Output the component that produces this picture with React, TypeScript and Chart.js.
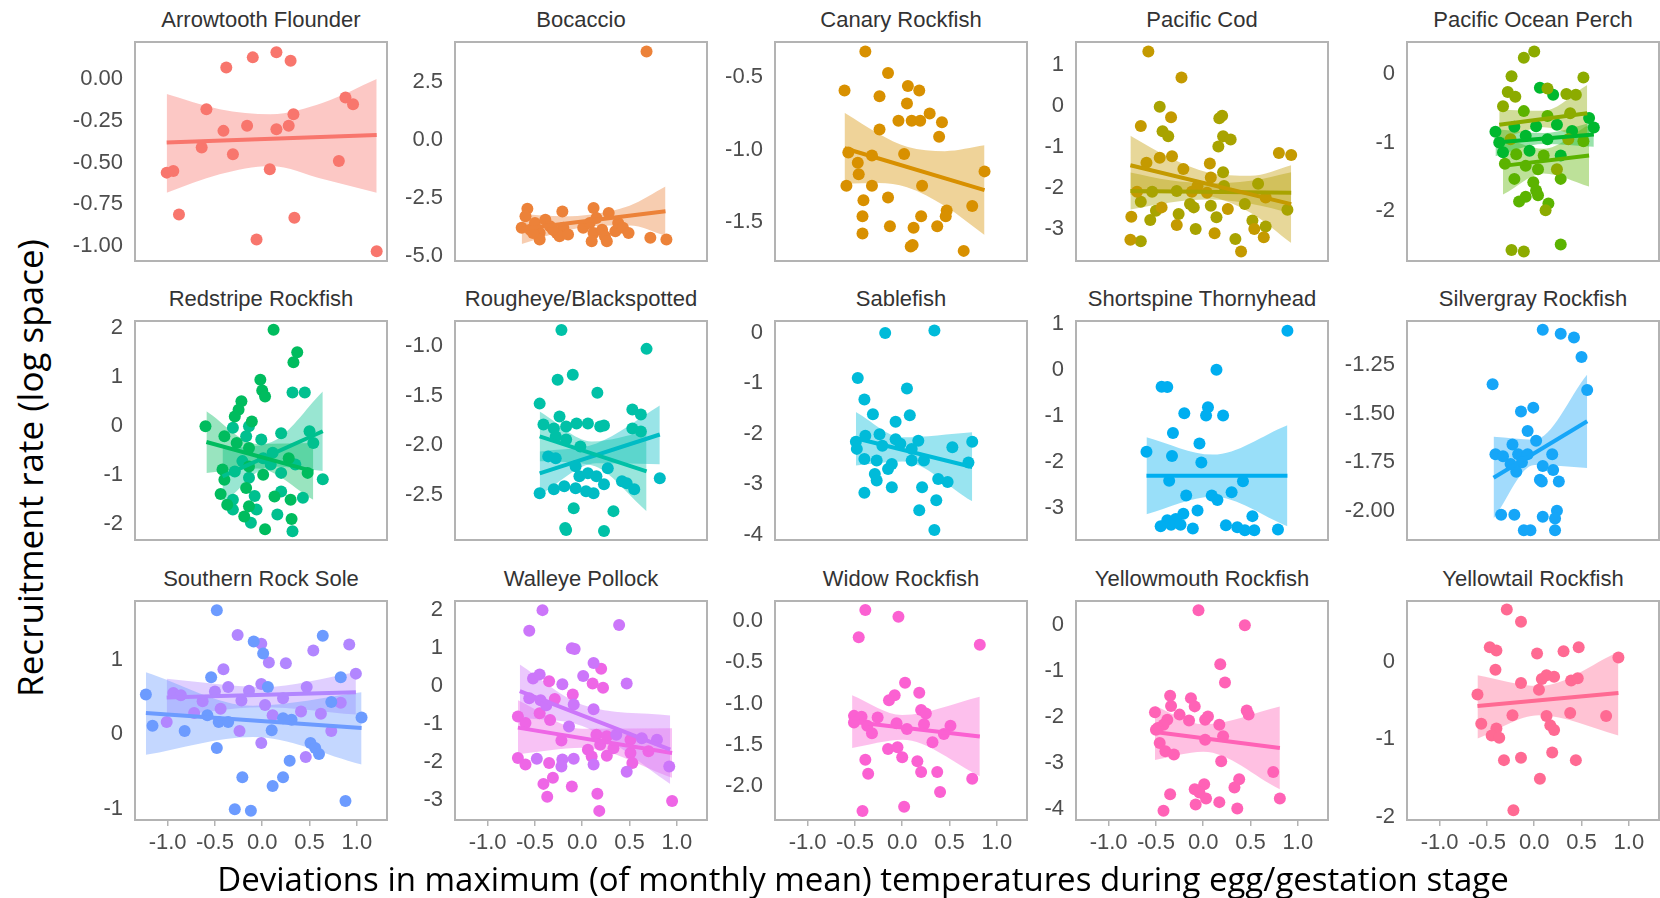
import React, { useEffect, useRef } from "react";
import { Chart, registerables } from "chart.js";

Chart.register(...registerables);

// ---------- shared axis data ----------
const xRange = [-1.345, 1.319];
const xTicks = [-1, -0.5, 0, 0.5, 1];
const xTickLabels = ["-1.0", "-0.5", "0.0", "0.5", "1.0"];
const xAxisTitle = "Deviations in maximum (of monthly mean) temperatures during egg/gestation stage";
const yAxisTitle = "Recruitment rate (log space)";

// ---------- Arrowtooth Flounder ----------
const arrowRange = [-1.089, 0.222];
const arrowTicks = [-1, -0.75, -0.5, -0.25, 0];
const arrowTickLabels = ["-1.00", "-0.75", "-0.50", "-0.25", "0.00"];
const arrowX = [-1.01, -0.94, -0.88, -0.59, -0.64, -0.41, -0.38, -0.31, -0.16, -0.1, -0.06, 0.08, 0.15, 0.15, 0.28, 0.3, 0.33, 0.34, 0.81, 0.88, 0.96, 1.21];
const arrowY = [-0.56, -0.55, -0.81, -0.18, -0.41, -0.31, 0.07, -0.45, -0.28, 0.13, -0.96, -0.54, 0.16, -0.3, -0.28, 0.11, -0.21, -0.83, -0.49, -0.11, -0.15, -1.03];
const arrowFitX = [-1.01, 1.21];
const arrowFitY = [-0.38, -0.335];
const arrowBandX = [-1.01, -0.45, 0.09, 0.65, 1.21];
const arrowBandHi = [-0.09, -0.18, -0.21, -0.14, 0.0];
const arrowBandLo = [-0.68, -0.57, -0.52, -0.6, -0.68];

// ---------- Bocaccio ----------
const bocaRange = [-5.23, 4.22];
const bocaTicks = [-5, -2.5, 0, 2.5];
const bocaTickLabels = ["-5.0", "-2.5", "0.0", "2.5"];
const bocaX = [-0.58, -0.6, -0.64, -0.55, -0.5, -0.45, -0.39, -0.34, -0.45, -0.27, -0.21, -0.2, -0.24, -0.15, 0.01, 0.08, 0.12, 0.15, 0.12, 0.1, 0.21, 0.24, 0.28, 0.26, 0.35, 0.38, 0.43, 0.49, 0.72, 0.89, -0.52, -0.31, 0.68];
const bocaY = [-2.98, -3.3, -3.8, -3.88, -3.59, -4.02, -3.45, -3.73, -4.3, -4.02, -3.09, -3.8, -4.16, -4.09, -3.8, -3.59, -2.94, -3.37, -4.02, -4.38, -3.88, -4.16, -3.16, -4.38, -3.95, -3.59, -3.8, -4.02, -4.23, -4.3, -4.02, -3.88, 3.81];
const bocaFitX = [-0.64, 0.88];
const bocaFitY = [-3.85, -3.08];
const bocaBandX = [-0.64, -0.2, 0.1, 0.5, 0.88];
const bocaBandHi = [-3.2, -3.3, -3.22, -2.85, -2.02];
const bocaBandLo = [-4.5, -3.95, -3.73, -3.7, -4.14];

// ---------- Canary Rockfish ----------
const canaryRange = [-1.77, -0.255];
const canaryTicks = [-1.5, -1, -0.5];
const canaryTickLabels = ["-1.5", "-1.0", "-0.5"];
const canaryX = [-0.39, -0.61, -0.15, -0.24, 0.06, 0.18, 0.05, 0.29, -0.04, 0.1, 0.19, 0.42, 0.39, -0.24, -0.57, -0.32, 0.02, -0.47, -0.46, -0.59, -0.32, 0.21, -0.15, -0.41, -0.42, -0.42, -0.13, 0.12, 0.2, 0.09, 0.11, 0.37, 0.47, 0.46, 0.65, 0.74, 0.87];
const canaryY = [-0.32, -0.59, -0.47, -0.63, -0.56, -0.59, -0.68, -0.75, -0.8, -0.8, -0.8, -0.81, -0.91, -0.86, -1.02, -1.04, -1.03, -1.09, -1.17, -1.25, -1.25, -1.25, -1.33, -1.35, -1.46, -1.58, -1.53, -1.54, -1.46, -1.67, -1.66, -1.53, -1.42, -1.46, -1.7, -1.39, -1.15];
const canaryFitX = [-0.61, 0.87];
const canaryFitY = [-0.99, -1.28];
const canaryBandX = [-0.61, -0.25, 0.05, 0.45, 0.87];
const canaryBandHi = [-0.745, -0.89, -0.98, -1.01, -0.97];
const canaryBandLo = [-1.235, -1.23, -1.26, -1.39, -1.59];

// ---------- Pacific Cod (two stocks) ----------
const codRange = [-3.79, 1.56];
const codTicks = [-3, -2, -1, 0, 1];
const codTickLabels = ["-3", "-2", "-1", "0", "1"];
const codAX = [-0.58, -0.23, -0.66, -0.34, -0.46, -0.33, -0.6, -0.21, 0.07, 0.8, 0.93, 0.08, -0.06, -0.7, -0.12, -0.44, 0.26, 0.66, -0.76, -0.28, 0.12, 0.54, 0.64, 0.4, -0.77, 0.04];
const codAY = [1.33, 0.69, -0.49, -0.28, -1.27, -1.23, -1.39, -1.54, -1.41, -1.15, -1.2, -1.75, -1.96, -2.1, -2.1, -2.48, -2.52, -2.24, -2.71, -2.91, -3.11, -3.01, -3.21, -3.56, -3.27, -2.12];
const codAFitX = [-0.77, 0.93];
const codAFitY = [-1.45, -2.4];
const codABandX = [-0.77, -0.35, 0.05, 0.5, 0.93];
const codABandHi = [-0.73, -1.27, -1.63, -1.71, -1.45];
const codABandLo = [-2.17, -2.11, -2.19, -2.61, -3.35];
const codBX = [-0.46, -0.43, -0.37, 0.17, 0.2, 0.21, 0.29, 0.16, 0.21, 0.58, 0.22, -0.54, -0.28, -0.66, -0.5, -0.14, 0.08, 0.44, 0.89, -0.56, -0.08, -0.26, 0.14, 0.52, 0.66, 0.34, -0.66, -0.1];
const codBY = [-0.02, -0.62, -0.74, -0.3, -0.24, -0.74, -0.82, -0.99, -1.62, -1.9, -1.96, -2.1, -2.08, -2.34, -2.56, -2.4, -2.44, -2.4, -2.54, -2.79, -3.01, -2.64, -2.72, -2.8, -2.95, -3.25, -3.31, -2.48];
const codBFitX = [-0.77, 0.93];
const codBFitY = [-2.08, -2.12];
const codBBandX = [-0.77, -0.35, 0.05, 0.5, 0.93];
const codBBandHi = [-1.63, -1.82, -1.89, -1.83, -1.62];
const codBBandLo = [-2.53, -2.36, -2.29, -2.39, -2.62];

// ---------- Pacific Ocean Perch (three stocks) ----------
const popRange = [-2.73, 0.47];
const popTicks = [-2, -1, 0];
const popTickLabels = ["-2", "-1", "0"];
const popAX = [-0.11, 0.0, -0.24, 0.52, -0.28, -0.2, 0.14, 0.34, 0.44, -0.33, 0.38, -0.25, 0.36, 0.24, 0.12, -0.24, -0.11];
const popAY = [0.24, 0.33, -0.03, -0.05, -0.26, -0.33, -0.21, -0.29, -0.3, -0.47, -0.57, -0.95, -0.95, -1.39, -1.99, -2.57, -2.59];
const popAFitX = [-0.37, 0.56];
const popAFitY = [-0.74, -0.57];
const popABandX = [-0.37, 0.1, 0.56];
const popABandHi = [-0.52, -0.535, -0.16];
const popABandLo = [-0.96, -0.775, -0.98];
const popBX = [0.06, 0.2, -0.41, -0.21, 0.02, 0.24, 0.63, -0.09, 0.14, -0.33, -0.05, 0.28, -0.37, 0.4, 0.58];
const popBY = [-0.2, -0.3, -0.84, -0.77, -0.76, -0.74, -0.78, -0.9, -0.95, -1.14, -1.12, -1.19, -1.0, -0.83, -0.64];
const popBFitX = [-0.41, 0.63];
const popBFitY = [-1.0, -0.88];
const popBBandX = [-0.41, 0.1, 0.63];
const popBBandHi = [-0.8, -0.86, -0.7];
const popBBandLo = [-1.2, -1.02, -1.06];
const popCX = [-0.11, 0.14, 0.52, -0.19, 0.1, -0.31, -0.09, 0.04, -0.21, -0.01, 0.28, 0.02, -0.16, -0.09, 0.15, 0.28, 0.04];
const popCY = [-0.54, -0.61, -0.98, -1.17, -1.19, -1.31, -1.34, -1.39, -1.53, -1.58, -1.53, -1.7, -1.86, -1.79, -1.89, -2.49, -1.77];
const popCFitX = [-0.33, 0.58];
const popCFitY = [-1.34, -1.19];
const popCBandX = [-0.33, 0.1, 0.58];
const popCBandHi = [-0.92, -1.09, -0.74];
const popCBandLo = [-1.76, -1.45, -1.64];

// ---------- Redstripe Rockfish (two stocks) ----------
const redRange = [-2.32, 2.15];
const redTicks = [-2, -1, 0, 1, 2];
const redTickLabels = ["-2", "-1", "0", "1", "2"];
const redAX = [0.12, 0.37, 0.33, -0.02, 0.0, 0.03, -0.22, -0.25, -0.29, -0.11, -0.6, -0.4, -0.27, -0.14, 0.28, -0.42, -0.14, -0.4, 0.01, 0.48, -0.44, -0.17, 0.13, 0.3, -0.37, -0.19, 0.03, 0.31, -0.14];
const redAY = [1.97, 1.51, 1.31, 0.95, 0.73, 0.61, 0.51, 0.34, 0.2, 0.1, 0.0, -0.2, -0.34, -0.44, -0.65, -0.88, -0.82, -1.09, -0.99, -0.95, -1.38, -1.26, -1.43, -1.5, -1.6, -1.84, -2.1, -1.89, -1.63];
const redAFitX = [-0.59, 0.54];
const redAFitY = [-0.32, -0.92];
const redABandX = [-0.59, -0.05, 0.54];
const redABandHi = [0.31, -0.36, -0.34];
const redABandLo = [-0.95, -0.86, -1.5];
const redBX = [0.32, 0.45, -0.14, -0.31, -0.17, 0.2, 0.5, 0.54, -0.01, 0.11, 0.01, -0.21, -0.29, 0.09, 0.35, -0.14, 0.2, 0.64, -0.31, -0.08, 0.2, 0.43, -0.31, -0.12, 0.16, 0.32, -0.06];
const redBY = [0.69, 0.69, 0.0, -0.03, -0.2, -0.14, -0.1, -0.34, -0.27, -0.54, -0.65, -0.71, -0.92, -0.78, -0.78, -1.05, -0.95, -1.08, -1.5, -1.42, -1.33, -1.46, -1.7, -1.97, -1.8, -2.14, -1.7];
const redBFitX = [-0.42, 0.64];
const redBFitY = [-1.02, -0.1];
const redBBandX = [-0.42, 0.1, 0.64];
const redBBandHi = [-0.45, -0.32, 0.71];
const redBBandLo = [-1.59, -0.82, -0.91];

// ---------- Rougheye/Blackspotted (two stocks) ----------
const rougRange = [-2.95, -0.75];
const rougTicks = [-2.5, -2, -1.5, -1];
const rougTickLabels = ["-2.5", "-2.0", "-1.5", "-1.0"];
const rougAX = [-0.22, 0.68, -0.26, -0.1, 0.16, -0.45, 0.53, 0.62, -0.24, -0.41, -0.3, -0.17, -0.06, 0.06, 0.19, 0.23, 0.53, 0.62, -0.28, -0.17, -0.02, -0.09, 0.33, -0.18, -0.17, 0.23];
const rougAY = [-0.84, -1.03, -1.34, -1.29, -1.47, -1.58, -1.64, -1.69, -1.71, -1.79, -1.83, -1.81, -1.78, -1.78, -1.81, -1.8, -1.83, -1.86, -1.91, -1.94, -2.01, -2.63, -2.66, -2.83, -2.85, -2.86];
const rougAFitX = [-0.45, 0.68];
const rougAFitY = [-1.91, -2.26];
const rougABandX = [-0.45, 0.1, 0.68];
const rougABandHi = [-1.66, -1.96, -1.86];
const rougABandLo = [-2.16, -2.2, -2.66];
const rougBX = [-0.36, -0.28, -0.07, 0.27, 0.06, 0.15, -0.03, 0.82, -0.45, -0.3, -0.19, -0.07, 0.04, 0.12, 0.23, 0.42, 0.47, 0.55];
const rougBY = [-2.11, -2.13, -2.21, -2.23, -2.28, -2.31, -2.31, -2.33, -2.48, -2.44, -2.41, -2.43, -2.46, -2.48, -2.39, -2.36, -2.38, -2.44];
const rougBFitX = [-0.45, 0.82];
const rougBFitY = [-2.28, -1.89];
const rougBBandX = [-0.45, 0.15, 0.82];
const rougBBandHi = [-2.06, -1.98, -1.6];
const rougBBandLo = [-2.5, -2.18, -2.19];

// ---------- Sablefish ----------
const sableRange = [-4.11, 0.24];
const sableTicks = [-4, -3, -2, -1, 0];
const sableTickLabels = ["-4", "-3", "-2", "-1", "0"];
const sableX = [-0.18, 0.34, -0.47, 0.05, -0.4, -0.31, -0.07, 0.08, -0.49, -0.39, -0.24, -0.48, -0.4, -0.27, -0.07, -0.02, 0.1, 0.17, 0.1, 0.23, -0.11, -0.15, 0.53, 0.74, 0.7, -0.29, -0.27, -0.11, -0.4, 0.21, 0.38, 0.48, 0.36, 0.18, 0.34, -0.21];
const sableY = [0.0, 0.05, -0.89, -1.1, -1.32, -1.61, -1.76, -1.63, -2.16, -2.04, -2.01, -2.3, -2.5, -2.53, -2.11, -2.2, -2.3, -2.14, -2.53, -2.53, -2.6, -2.7, -2.27, -2.16, -2.57, -2.8, -2.93, -3.06, -3.17, -3.06, -2.9, -2.96, -3.32, -3.52, -3.91, -2.24];
const sableFitX = [-0.49, 0.74];
const sableFitY = [-2.09, -2.66];
const sableBandX = [-0.49, 0.0, 0.74];
const sableBandHi = [-1.57, -2.07, -1.97];
const sableBandLo = [-2.63, -2.55, -3.34];

// ---------- Shortspine Thornyhead ----------
const shortRange = [-3.7, 1.07];
const shortTicks = [-3, -2, -1, 0, 1];
const shortTickLabels = ["-3", "-2", "-1", "0", "1"];
const shortX = [0.89, 0.14, -0.44, -0.38, 0.05, 0.03, 0.21, -0.2, -0.32, -0.04, -0.6, -0.33, -0.02, -0.36, 0.42, -0.18, 0.09, 0.15, 0.3, -0.06, -0.21, -0.29, -0.38, -0.45, -0.34, -0.24, -0.11, 0.24, 0.36, 0.44, 0.54, 0.52, 0.79];
const shortY = [0.86, 0.01, -0.36, -0.37, -0.81, -0.99, -0.99, -0.94, -1.37, -1.6, -1.78, -1.87, -2.01, -2.41, -2.42, -2.73, -2.73, -2.83, -2.66, -3.06, -3.13, -3.24, -3.27, -3.4, -3.37, -3.37, -3.45, -3.38, -3.42, -3.49, -3.49, -3.18, -3.47];
const shortFitX = [-0.6, 0.89];
const shortFitY = [-2.3, -2.3];
const shortBandX = [-0.6, 0.1, 0.89];
const shortBandHi = [-1.46, -1.84, -1.2];
const shortBandLo = [-3.14, -2.76, -3.4];

// ---------- Silvergray Rockfish ----------
const silverRange = [-2.15, -1.025];
const silverTicks = [-2, -1.75, -1.5, -1.25];
const silverTickLabels = ["-2.00", "-1.75", "-1.50", "-1.25"];
const silverX = [0.09, 0.28, 0.42, 0.5, -0.44, 0.56, -0.14, -0.01, -0.07, 0.02, -0.23, -0.41, -0.33, -0.17, -0.07, 0.19, -0.25, -0.13, 0.09, -0.19, 0.2, 0.06, 0.08, 0.26, -0.35, -0.21, 0.09, 0.24, 0.22, -0.11, -0.04, 0.22];
const silverY = [-1.07, -1.09, -1.11, -1.21, -1.35, -1.38, -1.49, -1.47, -1.59, -1.64, -1.66, -1.71, -1.72, -1.71, -1.71, -1.71, -1.76, -1.75, -1.77, -1.8, -1.79, -1.84, -1.85, -1.85, -2.02, -2.02, -2.03, -2.0, -2.04, -2.1, -2.1, -2.1];
const silverFitX = [-0.43, 0.56];
const silverFitY = [-1.83, -1.54];
const silverBandX = [-0.43, 0.0, 0.56];
const silverBandHi = [-1.62, -1.635, -1.3];
const silverBandLo = [-2.04, -1.765, -1.78];

// ---------- Southern Rock Sole (two stocks) ----------
const srsRange = [-1.155, 1.785];
const srsTicks = [-1, 0, 1];
const srsTickLabels = ["-1", "0", "1"];
const srsAX = [-0.48, 0.64, -0.09, 0.01, -0.54, 0.83, -1.23, 0.06, 0.73, -1.16, -0.82, -0.58, -0.46, -0.36, 0.1, 0.22, 1.05, -0.48, 0.51, 0.56, 0.6, 0.29, -0.21, 0.22, 0.11, -0.29, -0.12, 0.88, 0.31];
const srsAY = [1.66, 1.32, 1.24, 1.08, 0.76, 0.76, 0.53, 0.63, 0.43, 0.11, 0.04, 0.25, 0.16, 0.16, 0.05, 0.21, 0.22, -0.19, -0.12, -0.19, -0.27, -0.36, -0.58, -0.58, -0.7, -1.01, -1.03, -0.9, 0.19];
const srsAFitX = [-1.23, 1.05];
const srsAFitY = [0.28, 0.08];
const srsABandX = [-1.23, -0.1, 1.05];
const srsABandHi = [0.83, 0.38, 0.56];
const srsABandLo = [-0.28, -0.04, -0.41];
const srsBX = [-0.26, -0.01, 0.07, 0.25, 0.54, 0.92, 0.99, -0.41, -0.94, -0.86, -0.63, -0.5, -0.36, -0.14, -0.01, -0.22, 0.03, -0.44, 0.22, 0.47, 0.83, -0.72, 0.11, 0.41, 0.62, -1.01, -0.24, 0.73, -0.01, 0.46];
const srsBY = [1.33, 1.21, 0.96, 0.95, 1.12, 1.2, 0.81, 0.87, 0.55, 0.52, 0.44, 0.57, 0.63, 0.58, 0.67, 0.45, 0.39, 0.34, 0.48, 0.63, 0.42, 0.28, 0.25, 0.3, 0.27, 0.16, 0.04, 0.04, -0.12, -0.31];
const srsBFitX = [-1.01, 0.99];
const srsBFitY = [0.49, 0.56];
const srsBBandX = [-1.01, 0.0, 0.99];
const srsBBandHi = [0.74, 0.63, 0.83];
const srsBBandLo = [0.23, 0.36, 0.26];

// ---------- Walleye Pollock (two stocks) ----------
const wallRange = [-3.52, 2.24];
const wallTicks = [-3, -2, -1, 0, 1, 2];
const wallTickLabels = ["-3", "-2", "-1", "0", "1", "2"];
const wallAX = [-0.42, -0.56, 0.39, -0.11, -0.08, 0.12, 0.01, 0.47, -0.52, -0.45, -0.21, -0.09, -0.56, -0.44, -0.38, 0.12, -0.14, 0.36, 0.63, 0.79, -0.48, -0.21, -0.22, -0.09, 0.12, 0.47, 0.92];
const wallAY = [2.0, 1.46, 1.61, 1.0, 0.98, 0.61, 0.27, 0.07, 0.2, 0.31, 0.05, -0.48, -0.32, -0.37, -0.5, -0.61, -1.06, -1.28, -1.37, -1.41, -1.91, -1.93, -2.11, -1.91, -2.06, -2.25, -2.11];
const wallAFitX = [-0.66, 0.93];
const wallAFitY = [-0.13, -1.67];
const wallABandX = [-0.66, 0.0, 0.93];
const wallABandHi = [0.57, -0.49, -0.77];
const wallABandLo = [-0.83, -1.05, -2.57];
const wallBX = [0.2, 0.11, 0.22, -0.35, -0.1, -0.29, -0.45, -0.34, -0.68, -0.6, -0.22, 0.15, 0.26, 0.51, 0.06, 0.19, 0.33, 0.51, 0.7, -0.68, -0.6, -0.35, 0.1, 0.26, 0.53, -0.41, -0.31, -0.37, -0.11, 0.16, 0.18, 0.95];
const wallBY = [0.46, 0.07, -0.04, 0.13, -0.22, -0.34, -0.71, -0.89, -0.8, -0.97, -1.43, -1.28, -1.32, -1.41, -1.67, -1.54, -1.63, -1.76, -1.71, -1.89, -2.06, -2.02, -1.85, -1.83, -2.02, -2.57, -2.41, -2.91, -2.64, -2.83, -3.28, -3.02];
const wallBFitX = [-0.68, 0.95];
const wallBFitY = [-1.09, -1.76];
const wallBBandX = [-0.68, 0.0, 0.95];
const wallBBandHi = [-0.37, -1.12, -1.11];
const wallBBandLo = [-1.79, -1.62, -2.41];

// ---------- Widow Rockfish ----------
const widowRange = [-2.41, 0.24];
const widowTicks = [-2, -1.5, -1, -0.5, 0];
const widowTickLabels = ["-2.0", "-1.5", "-1.0", "-0.5", "0.0"];
const widowX = [-0.39, -0.04, -0.46, 0.82, 0.03, -0.08, -0.14, 0.18, 0.2, 0.25, -0.51, -0.43, -0.51, -0.26, -0.06, 0.23, -0.37, -0.32, 0.05, 0.51, 0.44, 0.32, -0.15, -0.05, 0.0, -0.39, -0.36, 0.16, 0.2, 0.37, 0.4, 0.74, -0.42, 0.02];
const widowY = [0.13, 0.05, -0.2, -0.29, -0.75, -0.9, -0.96, -0.87, -1.08, -1.12, -1.15, -1.16, -1.23, -1.17, -1.24, -1.25, -1.27, -1.36, -1.31, -1.27, -1.37, -1.47, -1.55, -1.53, -1.65, -1.68, -1.85, -1.7, -1.83, -1.83, -2.07, -1.91, -2.3, -2.25];
const widowFitX = [-0.53, 0.82];
const widowFitY = [-1.22, -1.4];
const widowBandX = [-0.53, 0.0, 0.82];
const widowBandHi = [-0.9, -1.14, -0.92];
const widowBandLo = [-1.54, -1.44, -1.88];

// ---------- Yellowmouth Rockfish ----------
const ymouthRange = [-4.25, 0.53];
const ymouthTicks = [-4, -3, -2, -1, 0];
const ymouthTickLabels = ["-4", "-3", "-2", "-1", "0"];
const ymouthX = [-0.05, 0.44, 0.18, 0.23, -0.35, -0.34, -0.13, -0.09, -0.51, -0.25, -0.15, 0.02, 0.05, 0.46, 0.48, -0.38, -0.42, -0.48, -0.5, 0.17, 0.21, 0.02, -0.46, -0.4, -0.31, 0.19, 0.74, 0.38, 0.33, 0.01, -0.09, -0.04, 0.03, 0.17, -0.08, -0.35, -0.42, 0.36, 0.81];
const ymouthY = [0.33, 0.0, -0.85, -1.25, -1.54, -1.76, -1.59, -1.77, -1.9, -1.95, -2.08, -2.06, -1.99, -1.86, -1.95, -2.06, -2.17, -2.24, -2.28, -2.17, -2.42, -2.5, -2.57, -2.75, -2.82, -2.97, -3.2, -3.36, -3.54, -3.47, -3.58, -3.65, -3.78, -3.86, -3.91, -3.69, -4.05, -4.0, -3.78];
const ymouthFitX = [-0.51, 0.81];
const ymouthFitY = [-2.33, -2.68];
const ymouthBandX = [-0.51, 0.0, 0.81];
const ymouthBandHi = [-1.76, -2.16, -1.77];
const ymouthBandLo = [-2.94, -2.76, -3.58];

// ---------- Yellowtail Rockfish ----------
const ytailRange = [-2.045, 0.79];
const ytailTicks = [-2, -1, 0];
const ytailTickLabels = ["-2", "-1", "0"];
const ytailX = [-0.29, -0.14, -0.47, -0.4, 0.03, 0.31, 0.47, 0.89, -0.41, -0.14, 0.05, 0.08, 0.13, 0.21, 0.39, 0.46, -0.6, -0.23, 0.13, 0.38, 0.76, -0.56, -0.4, -0.45, -0.37, 0.17, 0.21, -0.32, -0.14, 0.19, 0.44, 0.06, -0.22];
const ytailY = [0.68, 0.52, 0.19, 0.15, 0.11, 0.14, 0.19, 0.06, -0.1, -0.27, -0.36, -0.22, -0.17, -0.19, -0.24, -0.21, -0.42, -0.69, -0.7, -0.66, -0.7, -0.8, -0.86, -0.95, -0.98, -0.82, -0.88, -1.27, -1.24, -1.17, -1.27, -1.51, -1.92];
const ytailFitX = [-0.6, 0.89];
const ytailFitY = [-0.57, -0.4];
const ytailBandX = [-0.6, 0.05, 0.89];
const ytailBandHi = [-0.17, -0.31, 0.13];
const ytailBandLo = [-0.99, -0.69, -0.95];

// ---------- panel table ----------
type Group = {
  color: string;
  x: number[];
  y: number[];
  fitX: number[];
  fitY: number[];
  bandX: number[];
  bandHi: number[];
  bandLo: number[];
};
type PanelDef = {
  title: string;
  range: number[];
  ticks: number[];
  labels: string[];
  groups: Group[];
};

const g = (color: string, x: number[], y: number[], fitX: number[], fitY: number[], bandX: number[], bandHi: number[], bandLo: number[]): Group => ({ color, x, y, fitX, fitY, bandX, bandHi, bandLo });

const panels: PanelDef[] = [
  { title: "Arrowtooth Flounder", range: arrowRange, ticks: arrowTicks, labels: arrowTickLabels, groups: [g("#F8766D", arrowX, arrowY, arrowFitX, arrowFitY, arrowBandX, arrowBandHi, arrowBandLo)] },
  { title: "Bocaccio", range: bocaRange, ticks: bocaTicks, labels: bocaTickLabels, groups: [g("#EC8239", bocaX, bocaY, bocaFitX, bocaFitY, bocaBandX, bocaBandHi, bocaBandLo)] },
  { title: "Canary Rockfish", range: canaryRange, ticks: canaryTicks, labels: canaryTickLabels, groups: [g("#D89000", canaryX, canaryY, canaryFitX, canaryFitY, canaryBandX, canaryBandHi, canaryBandLo)] },
  { title: "Pacific Cod", range: codRange, ticks: codTicks, labels: codTickLabels, groups: [
    g("#C49A00", codAX, codAY, codAFitX, codAFitY, codABandX, codABandHi, codABandLo),
    g("#A8A300", codBX, codBY, codBFitX, codBFitY, codBBandX, codBBandHi, codBBandLo),
  ] },
  { title: "Pacific Ocean Perch", range: popRange, ticks: popTicks, labels: popTickLabels, groups: [
    g("#8CAB00", popAX, popAY, popAFitX, popAFitY, popABandX, popABandHi, popABandLo),
    g("#00B82E", popBX, popBY, popBFitX, popBFitY, popBBandX, popBBandHi, popBBandLo),
    g("#5BB300", popCX, popCY, popCFitX, popCFitY, popCBandX, popCBandHi, popCBandLo),
  ] },
  { title: "Redstripe Rockfish", range: redRange, ticks: redTicks, labels: redTickLabels, groups: [
    g("#00BC5E", redAX, redAY, redAFitX, redAFitY, redABandX, redABandHi, redABandLo),
    g("#00C08F", redBX, redBY, redBFitX, redBFitY, redBBandX, redBBandHi, redBBandLo),
  ] },
  { title: "Rougheye/Blackspotted", range: rougRange, ticks: rougTicks, labels: rougTickLabels, groups: [
    g("#00C1A7", rougAX, rougAY, rougAFitX, rougAFitY, rougABandX, rougABandHi, rougABandLo),
    g("#00BCC4", rougBX, rougBY, rougBFitX, rougBFitY, rougBBandX, rougBBandHi, rougBBandLo),
  ] },
  { title: "Sablefish", range: sableRange, ticks: sableTicks, labels: sableTickLabels, groups: [g("#00BBD9", sableX, sableY, sableFitX, sableFitY, sableBandX, sableBandHi, sableBandLo)] },
  { title: "Shortspine Thornyhead", range: shortRange, ticks: shortTicks, labels: shortTickLabels, groups: [g("#00AEF0", shortX, shortY, shortFitX, shortFitY, shortBandX, shortBandHi, shortBandLo)] },
  { title: "Silvergray Rockfish", range: silverRange, ticks: silverTicks, labels: silverTickLabels, groups: [g("#16A6F8", silverX, silverY, silverFitX, silverFitY, silverBandX, silverBandHi, silverBandLo)] },
  { title: "Southern Rock Sole", range: srsRange, ticks: srsTicks, labels: srsTickLabels, groups: [
    g("#6C9BFF", srsAX, srsAY, srsAFitX, srsAFitY, srsABandX, srsABandHi, srsABandLo),
    g("#B286FF", srsBX, srsBY, srsBFitX, srsBFitY, srsBBandX, srsBBandHi, srsBBandLo),
  ] },
  { title: "Walleye Pollock", range: wallRange, ticks: wallTicks, labels: wallTickLabels, groups: [
    g("#CC76FA", wallAX, wallAY, wallAFitX, wallAFitY, wallABandX, wallABandHi, wallABandLo),
    g("#EE66E6", wallBX, wallBY, wallBFitX, wallBFitY, wallBBandX, wallBBandHi, wallBBandLo),
  ] },
  { title: "Widow Rockfish", range: widowRange, ticks: widowTicks, labels: widowTickLabels, groups: [g("#FB61D2", widowX, widowY, widowFitX, widowFitY, widowBandX, widowBandHi, widowBandLo)] },
  { title: "Yellowmouth Rockfish", range: ymouthRange, ticks: ymouthTicks, labels: ymouthTickLabels, groups: [g("#FF62B6", ymouthX, ymouthY, ymouthFitX, ymouthFitY, ymouthBandX, ymouthBandHi, ymouthBandLo)] },
  { title: "Yellowtail Rockfish", range: ytailRange, ticks: ytailTicks, labels: ytailTickLabels, groups: [g("#FF6A93", ytailX, ytailY, ytailFitX, ytailFitY, ytailBandX, ytailBandHi, ytailBandLo)] },
];

// ---------- layout (pixels) ----------
const PAGE_W = 1660;
const PAGE_H = 898;
const COL_LEFT = [135, 455, 775, 1076, 1407];
const ROW_TOP = [42, 321, 601];
const BOX_W = 252;
const BOX_H = 219;
const AXIS_W = 64;
const PAD_T = 28;
const PAD_R = 6;
const PAD_B = 28;
const XAXIS_H = 44;

const TICK_FONT = { family: "'Liberation Sans', Arial, Helvetica, sans-serif", size: 22 };
const TICK_COLOR = "#4D4D4D";
const BORDER_COLOR = "#B3B3B3";

function rgba(hex: string, a: number) {
  const n = parseInt(hex.slice(1), 16);
  return `rgba(${(n >> 16) & 255},${(n >> 8) & 255},${n & 255},${a})`;
}

const boxPlugin = {
  id: "panelBox",
  afterDraw(chart: any) {
    const { ctx, chartArea: a } = chart;
    ctx.save();
    ctx.strokeStyle = BORDER_COLOR;
    ctx.lineWidth = 2;
    ctx.strokeRect(a.left, a.top, a.right - a.left, a.bottom - a.top);
    ctx.restore();
  },
};

function labelFor(ticks: number[], labels: string[], v: number) {
  for (let i = 0; i < ticks.length; i++) if (Math.abs(ticks[i] - v) < 1e-9) return labels[i];
  return "";
}

function PanelChart({ p, col, row }: { p: PanelDef; col: number; row: number }) {
  const ref = useRef<HTMLCanvasElement>(null);
  const bottom = row === 2;
  const w = AXIS_W + BOX_W + PAD_R;
  const h = PAD_T + BOX_H + (bottom ? XAXIS_H : PAD_B);

  useEffect(() => {
    if (!ref.current) return;
    const datasets: any[] = [];
    p.groups.forEach((gr) => {
      datasets.push({
        data: gr.bandX.map((x, i) => ({ x, y: gr.bandHi[i] })),
        borderWidth: 0,
        borderColor: "rgba(0,0,0,0)",
        pointRadius: 0,
        fill: false,
        cubicInterpolationMode: "monotone",
        order: 3,
      });
      datasets.push({
        data: gr.bandX.map((x, i) => ({ x, y: gr.bandLo[i] })),
        borderWidth: 0,
        borderColor: "rgba(0,0,0,0)",
        pointRadius: 0,
        fill: "-1",
        backgroundColor: rgba(gr.color, 0.4),
        cubicInterpolationMode: "monotone",
        order: 3,
      });
    });
    p.groups.forEach((gr) => {
      datasets.push({
        data: gr.x.map((x, i) => ({ x, y: gr.y[i] })),
        showLine: false,
        pointRadius: 6,
        pointHoverRadius: 6,
        pointBorderWidth: 0,
        pointBackgroundColor: gr.color,
        backgroundColor: gr.color,
        borderColor: gr.color,
        clip: 10,
        order: 2,
      });
    });
    p.groups.forEach((gr) => {
      datasets.push({
        data: gr.fitX.map((x, i) => ({ x, y: gr.fitY[i] })),
        borderColor: gr.color,
        borderWidth: 4,
        pointRadius: 0,
        fill: false,
        order: 1,
      });
    });

    const xScale: any = {
      type: "linear",
      min: xRange[0],
      max: xRange[1],
      display: bottom,
      afterBuildTicks: (s: any) => { s.ticks = xTicks.map((v) => ({ value: v })); },
      ticks: {
        autoSkip: false,
        maxRotation: 0,
        padding: 4,
        color: TICK_COLOR,
        font: TICK_FONT,
        callback: (v: any) => labelFor(xTicks, xTickLabels, Number(v)),
      },
      grid: { display: true, drawOnChartArea: false, drawTicks: true, tickLength: 6, color: BORDER_COLOR, lineWidth: 1.5 },
      border: { display: false },
    };
    if (bottom) xScale.afterFit = (s: any) => { s.height = XAXIS_H; };

    const chart = new Chart(ref.current, {
      type: "line",
      data: { datasets },
      plugins: [boxPlugin],
      options: {
        animation: false,
        responsive: false,
        events: [],
        layout: { padding: { left: 0, top: PAD_T, right: PAD_R, bottom: bottom ? 0 : PAD_B } },
        plugins: { legend: { display: false }, tooltip: { enabled: false }, title: { display: false } },
        scales: {
          x: xScale,
          y: {
            type: "linear",
            min: p.range[0],
            max: p.range[1],
            position: "left",
            afterFit: (s: any) => { s.width = AXIS_W; },
            afterBuildTicks: (s: any) => { s.ticks = p.ticks.map((v) => ({ value: v })); },
            ticks: {
              autoSkip: false,
              padding: 12,
              color: TICK_COLOR,
              font: TICK_FONT,
              callback: (v: any) => labelFor(p.ticks, p.labels, Number(v)),
            },
            grid: { display: false, drawTicks: false },
            border: { display: false },
          },
        },
      } as any,
    });
    return () => chart.destroy();
  }, []);

  return (
    <canvas
      ref={ref}
      width={w}
      height={h}
      style={{ position: "absolute", left: COL_LEFT[col] - AXIS_W, top: ROW_TOP[row] - PAD_T, width: w, height: h, display: "block" }}
    />
  );
}

export default function App() {
  return (
    <div style={{ position: "absolute", left: 0, top: 0, width: PAGE_W, height: PAGE_H, background: "#ffffff", overflow: "hidden" }}>
      {panels.map((p, i) => {
        const col = i % 5;
        const row = Math.floor(i / 5);
        return (
          <div
            key={"t" + i}
            style={{
              position: "absolute",
              left: COL_LEFT[col],
              top: ROW_TOP[row] - 36,
              width: BOX_W,
              height: 28,
              lineHeight: "28px",
              textAlign: "center",
              fontFamily: "'Liberation Sans', Arial, Helvetica, sans-serif",
              fontSize: 22,
              color: "#333333",
              whiteSpace: "nowrap",
            }}
          >
            {p.title}
          </div>
        );
      })}
      {panels.map((p, i) => (
        <PanelChart key={"c" + i} p={p} col={i % 5} row={Math.floor(i / 5)} />
      ))}
      <div
        style={{
          position: "absolute",
          left: 30,
          top: 468,
          transform: "translate(-50%, -50%) rotate(-90deg)",
          whiteSpace: "nowrap",
          fontFamily: "'Open Sans', 'Noto Sans', sans-serif",
          fontSize: 35,
          color: "#000000",
          lineHeight: "40px",
        }}
      >
        {yAxisTitle}
      </div>
      <div
        style={{
          position: "absolute",
          left: 863,
          top: 860,
          transform: "translateX(-50%)",
          whiteSpace: "nowrap",
          fontFamily: "'Open Sans', 'Noto Sans', sans-serif",
          fontSize: 33,
          color: "#000000",
          lineHeight: "38px",
        }}
      >
        {xAxisTitle}
      </div>
    </div>
  );
}
